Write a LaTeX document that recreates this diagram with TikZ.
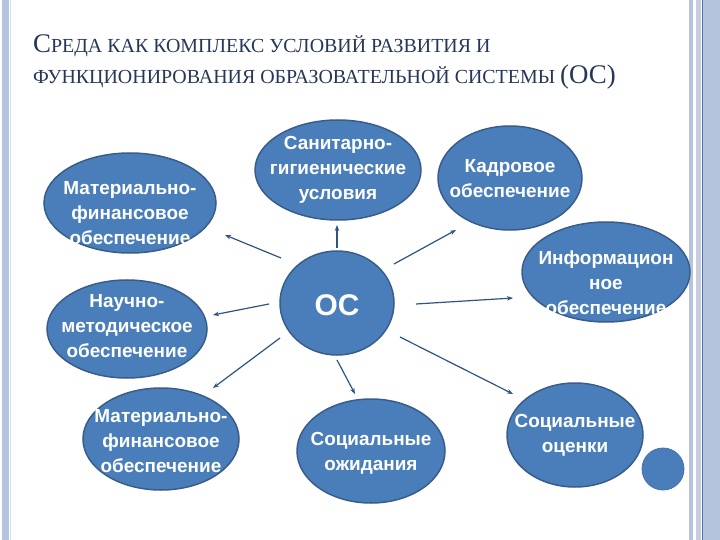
\documentclass[tikz,border=0pt]{standalone}
\usepackage{fontspec}
\setmainfont{Liberation Serif}
\newfontfamily\lsans{Liberation Sans}
\usetikzlibrary{shapes.geometric,arrows.meta}
\definecolor{ellfill}{RGB}{74,126,187}
\definecolor{elldraw}{RGB}{56,93,138}
\definecolor{arrcol}{RGB}{46,84,130}
\definecolor{titlecol}{RGB}{38,55,88}
\definecolor{stripA}{RGB}{180,196,220}
\definecolor{stripB}{RGB}{200,204,224}
\definecolor{stripC}{RGB}{79,111,181}
\newcommand{\BigL}{\fontsize{27}{30}\selectfont}
\newcommand{\SmL}{\fontsize{20}{30}\selectfont}
\tikzset{
  bubble/.style={ellipse, fill=ellfill, draw=elldraw, line width=1.5bp, inner sep=0pt},
  btext/.style={text=white, font=\lsans\bfseries\fontsize{19}{25}\selectfont, align=center, inner sep=0pt},
  arr/.style={draw=arrcol, line width=1.2bp, -{Stealth[length=6bp,width=4.5bp]}},
}
\begin{document}
\begin{tikzpicture}[x=1bp,y=-1bp]
\useasboundingbox (0,0) rectangle (720,540);
\fill[white] (0,0) rectangle (720,540);
% borders
\fill[stripA] (2,0) rectangle (9,540);
\fill[stripA!60] (10,0) rectangle (11,540);
\fill[stripA] (689,0) rectangle (693,540);
\fill[stripB] (696,0) rectangle (701,540);
\fill[stripC] (701.5,0) rectangle (702.7,540);
\fill[stripA] (703,0) rectangle (720,540);
% title
\node[anchor=base west, inner sep=0pt, text=titlecol] (t1) at (33,53)
  {{\BigL С}{\SmL РЕДА КАК КОМПЛЕКС УСЛОВИЙ РАЗВИТИЯ И}};
\node[anchor=base west, inner sep=0pt, text=titlecol] (t2) at (33,84)
  {{\SmL ФУНКЦИОНИРОВАНИЯ ОБРАЗОВАТЕЛЬНОЙ СИСТЕМЫ }{\BigL (ОС)}};
% bubbles
\node[bubble, minimum width=172bp, minimum height=100bp] (mf1) at (130,203) {};
\node[btext] at (130,213) {Материально-\\финансовое\\обеспечение};
\node[bubble, minimum width=160bp, minimum height=98bp] (nm) at (127,329) {};
\node[btext] at (127,326) {Научно-\\методическое\\обеспечение};
\node[bubble, minimum width=156bp, minimum height=102bp] (mf2) at (161,439) {};
\node[btext] at (161,441) {Материально-\\финансовое\\обеспечение};
\node[bubble, minimum width=166bp, minimum height=100bp] (sg) at (338,170) {};
\node[btext] at (338,170) {Санитарно-\\гигиенические\\условия};
\node[bubble, minimum width=144bp, minimum height=104bp] (kd) at (510,178) {};
\node[btext] at (510,179) {Кадровое\\обеспечение};
\node[bubble, minimum width=168bp, minimum height=100bp] (inf) at (606,272) {};
\node[btext] at (606,283) {Информацион\\ное\\обеспечение};
\node[bubble, minimum width=114bp, minimum height=104bp] (oc) at (337,303) {};
\node[text=white, font=\lsans\bfseries\fontsize{30}{30}\selectfont, inner sep=0pt] at (337,305) {ОС};
\node[bubble, minimum width=148bp, minimum height=104bp] (so) at (371,451) {};
\node[btext] at (371,453) {Социальные\\ожидания};
\node[bubble, minimum width=136bp, minimum height=104bp] (soc) at (575,435) {};
\node[btext] at (575,435) {Социальные\\оценки};
\node[circle, fill=ellfill, draw=ellfill!90!black, line width=0.8bp, minimum size=42bp, inner sep=0pt] (dot) at (663,469) {};
% arrow ends
\coordinate (a1s) at (337,248); \coordinate (a1e) at (337,225);
\coordinate (a2s) at (281,258); \coordinate (a2e) at (225,235);
\coordinate (a3s) at (269,304); \coordinate (a3e) at (213,315);
\coordinate (a4s) at (280,338); \coordinate (a4e) at (213,388);
\coordinate (a5s) at (337,360); \coordinate (a5e) at (355,394);
\coordinate (a6s) at (400,337); \coordinate (a6e) at (513,394);
\coordinate (a7s) at (416,304); \coordinate (a7e) at (513,298);
\coordinate (a8s) at (394,264); \coordinate (a8e) at (456,230);
\foreach \i in {1,...,8} { \draw[arr] (a\i s) -- (a\i e); }
\end{tikzpicture}
\end{document}
